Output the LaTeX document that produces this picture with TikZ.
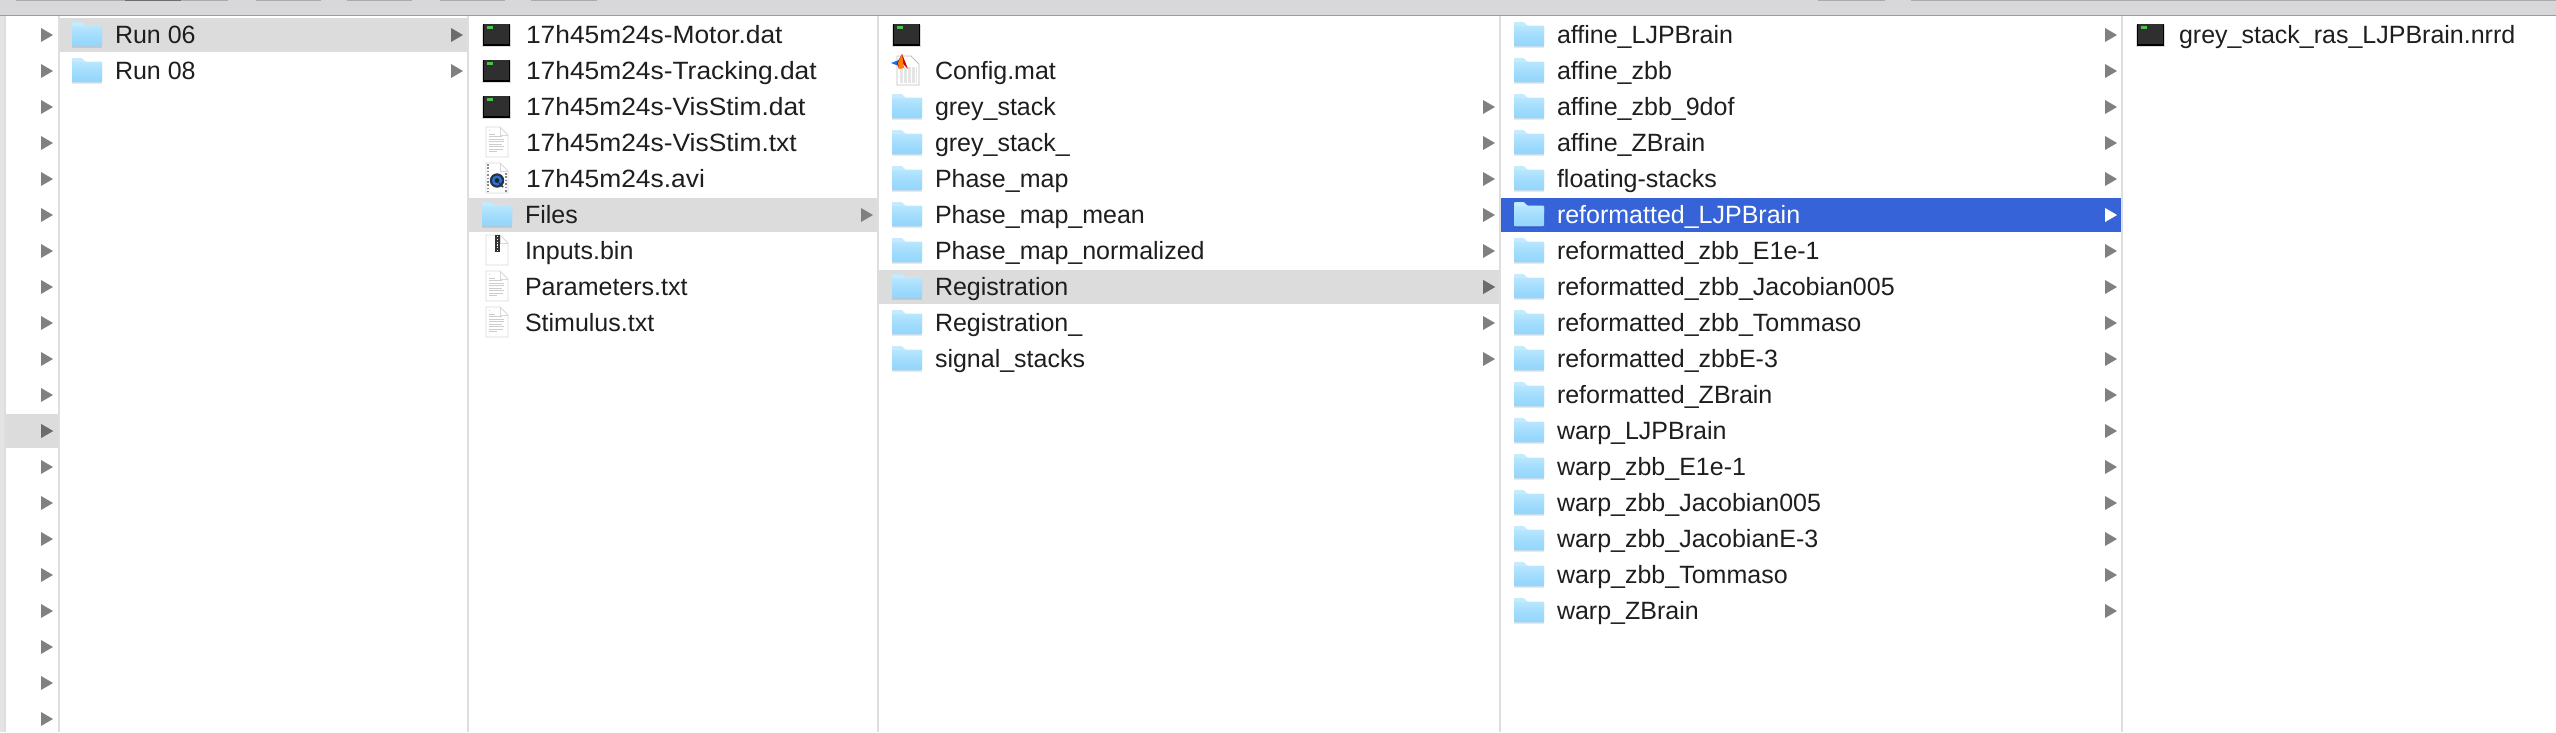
\documentclass[tikz,border=0pt]{standalone}
\usepackage{fontspec}
\setmainfont{Liberation Sans}
\definecolor{barbg}{HTML}{D8D8DA}
\definecolor{barline}{HTML}{9C9C9C}
\definecolor{btn}{HTML}{ABABAB}
\definecolor{btndark}{HTML}{6E6E6E}
\definecolor{divider}{HTML}{DEDEDE}
\definecolor{rowgrey}{HTML}{DCDCDC}
\definecolor{rowblue}{HTML}{3763D8}
\definecolor{chev}{HTML}{808080}
\definecolor{chevdark}{HTML}{6C6C6C}
\definecolor{ink}{HTML}{1E1E1E}
\definecolor{fold}{HTML}{A2DCFD}
\definecolor{foldtop}{HTML}{B6E6FE}
\definecolor{foldlow}{HTML}{93D6FD}
\definecolor{foldtab}{HTML}{C4EAFD}
\definecolor{foldedge}{HTML}{8FCDF4}
\definecolor{term}{HTML}{2F2F2F}
\definecolor{termgreen}{HTML}{4CC24C}
\definecolor{pageedge}{HTML}{D8D8D8}
\definecolor{sheetline}{HTML}{CDCDCD}
\definecolor{qdark}{HTML}{26344A}
\definecolor{qblue}{HTML}{2F72D6}
\tikzset{
  x=1pt,y=-1pt,
  label text/.style={anchor=base west,inner sep=0pt,outer sep=0pt,text=ink,
    font=\fontsize{25}{30}\selectfont},
  selected text/.style={label text,text=white},
}
% --- icons, given left edge #1 and row centre #2
\newcommand\iconfolder[2]{\begin{scope}[shift={(#1,#2)}]
  \fill[black,opacity=.09] (0,-8) rectangle (30,12.6);
  \fill[foldtab,rounded corners=1pt] (0,0) -- (0,-13) -- (10,-13) -- (13,-9.5) -- (30,-9.5) -- (30,0) -- cycle;
  \fill[foldedge,rounded corners=1pt] (0,-9) rectangle (30,11.4);
  \shade[top color=foldtop,bottom color=foldlow,middle color=fold] (0.4,-8.4) rectangle (29.6,10);
\end{scope}}
\newcommand\iconterm[2]{\begin{scope}[shift={(#1,#2)}]
  \fill[black,opacity=.14] (-1,-10) rectangle (28,12);
  \fill[black] (0,-11.5) rectangle (27,10.6);
  \fill[term] (.8,-10.7) rectangle (26.2,9.4);
  \fill[termgreen] (3.6,-8.6) rectangle (10,-6.4);
\end{scope}}
\newcommand\pagepath{(0,-16) -- (14,-16) -- (22,-8) -- (22,14) -- (0,14) -- cycle}
\newcommand\icondoc[2]{\begin{scope}[shift={(#1,#2)}]
  \fill[white,draw=pageedge,line width=.9pt] \pagepath;
  \draw[pageedge,line width=.7pt] (14,-16) -- (14,-8) -- (22,-8);
  \foreach \ly/\lx in {-13/4,-9/9,-6.5/16,-4/18,-1.5/18,1/16,3.5/18,6/17,8.5/11}
    \draw[sheetline,line width=.8pt] (3,\ly) -- (\lx,\ly);
\end{scope}}
\newcommand\iconzip[2]{\begin{scope}[shift={(#1,#2)}]
  \fill[white,draw=pageedge,line width=.9pt] \pagepath;
  \draw[pageedge,line width=.7pt] (14,-16) -- (14,-8) -- (22,-8);
  \fill[black!80] (9,-16) rectangle (14,1);
  \draw[white,line width=1.2pt,dash pattern=on 1.2pt off 1.6pt] (11.5,-15) -- (11.5,0);
\end{scope}}
\newcommand\iconavi[2]{\begin{scope}[shift={(#1,#2)}]
  \fill[white,draw=pageedge,line width=.9pt] \pagepath;
  \draw[pageedge,line width=.7pt] (14,-16) -- (14,-8) -- (22,-8);
  \draw[black!45,line width=1.5pt,dash pattern=on 1.6pt off 1.8pt] (2,-15) -- (2,13);
  \draw[black!45,line width=1.5pt,dash pattern=on 1.6pt off 1.8pt] (20,-6) -- (20,13);
  \fill[qdark] (11,1.5) circle (7.2);
  \fill[qblue] (11,1.5) circle (5);
  \fill[qdark!70!black] (11,1.5) circle (2.4);
  \draw[qdark,line width=1.6pt] (13,4) -- (17,8);
\end{scope}}
\newcommand\iconmat[2]{\begin{scope}[shift={(#1,#2)}]
  \fill[white,draw=black!25,line width=.9pt] (6,-15) -- (20,-15) -- (28,-7) -- (28,14) -- (6,14) -- cycle;
  \fill[black!10] (8,-4) rectangle (26,12);
  \draw[white,line width=.7pt,step=4] (8,-4) grid (26,12);
  \fill[blue!55!cyan] (0,-8) -- (8,-11) -- (8,-5) -- cycle;
  \fill[red!75!black] (6,-8) -- (11,-17) -- (17,-2) -- (12,-7) -- (8,-2) -- cycle;
  \fill[orange] (11,-17) -- (13,-3) -- (8,-2) -- (7,-8) -- cycle;
\end{scope}}
\newcommand\chevat[3][chev]{\fill[#1] (#2,#3-7) -- (#2+12,#3) -- (#2,#3+7) -- cycle;}
% name, icon, icon x, text x, row, text
\newcommand\entry[6]{\pgfmathtruncatemacro\cy{35+36*#5}
  #2{#3}{\cy}
  \node[label text] (#1) at (#4,\cy+8.5) {#6};}
\newcommand\widetxt[1]{\scalebox{1.055}[1]{#1}}
\begin{document}
\begin{tikzpicture}
\useasboundingbox (0,0) rectangle (2556,732);
\fill[white] (0,0) rectangle (2556,732);
% window toolbar
\fill[barbg] (0,0) rectangle (2556,15);
\fill[barline] (0,14.5) rectangle (2556,16);
\foreach \a/\b in {16/228,256/321,347/412,440/505,531/597,1818/1885,1911/2556}
  \fill[btn] (\a,0) rectangle (\b,1.3);
\fill[btndark] (125,0) rectangle (181,1.3);
% left strip
\fill[barbg!70!white] (0,16) rectangle (4,732);
\fill[divider] (4,16) rectangle (5.5,732);
% selection bars
\fill[rowgrey] (5.5,414) rectangle (57.5,448);
\fill[rowgrey] (59.5,18) rectangle (467,52);
\fill[rowgrey] (469,198) rectangle (877,232);
\fill[rowgrey] (879,270) rectangle (1499,304);
\fill[rowblue] (1501,198) rectangle (2121,232);
% column dividers
\foreach \d in {58.5,468,878,1500,2121.5}
  \fill[divider] (\d-1,16) rectangle (\d+1,732);
% chevrons, column 1
\foreach \k in {0,...,19}{\pgfmathtruncatemacro\cy{35+36*\k}\chevat{41}{\cy}}
\chevat[chevdark]{41}{431}
% chevrons, column 2
\chevat[chevdark]{451}{35}
\chevat{451}{71}
% chevrons, column 3
\chevat{861}{215}
% chevrons, column 4
\foreach \k in {2,...,9}{\pgfmathtruncatemacro\cy{35+36*\k}\chevat{1483}{\cy}}
\chevat[chevdark]{1483}{287}
% chevrons, column 5
\foreach \k in {0,...,16}{\pgfmathtruncatemacro\cy{35+36*\k}\chevat{2105}{\cy}}
\chevat[white]{2105}{215}
% column 2
\entry{run06}{\iconfolder}{72}{115}{0}{Run 06}
\entry{run08}{\iconfolder}{72}{115}{1}{Run 08}
% column 3
\entry{motor}{\iconterm}{483}{526}{0}{\widetxt{17h45m24s-Motor.dat}}
\entry{tracking}{\iconterm}{483}{526}{1}{\widetxt{17h45m24s-Tracking.dat}}
\entry{visdat}{\iconterm}{483}{526}{2}{\widetxt{17h45m24s-VisStim.dat}}
\entry{vistxt}{\icondoc}{486}{526}{3}{\widetxt{17h45m24s-VisStim.txt}}
\entry{avi}{\iconavi}{486}{526}{4}{\widetxt{17h45m24s.avi}}
\entry{files}{\iconfolder}{482}{525}{5}{Files}
\entry{inputs}{\iconzip}{486}{525}{6}{Inputs.bin}
\entry{params}{\icondoc}{486}{525}{7}{Parameters.txt}
\entry{stimulus}{\icondoc}{486}{525}{8}{Stimulus.txt}
% column 4
\iconterm{893}{35}
\entry{config}{\iconmat}{891}{935}{1}{Config.mat}
\entry{grey}{\iconfolder}{892}{935}{2}{grey\_stack}
\entry{greyb}{\iconfolder}{892}{935}{3}{grey\_stack\_}
\entry{phase}{\iconfolder}{892}{935}{4}{Phase\_map}
\entry{phasemean}{\iconfolder}{892}{935}{5}{Phase\_map\_mean}
\entry{phasenorm}{\iconfolder}{892}{935}{6}{Phase\_map\_normalized}
\entry{reg}{\iconfolder}{892}{935}{7}{Registration}
\entry{regb}{\iconfolder}{892}{935}{8}{Registration\_}
\entry{signal}{\iconfolder}{892}{935}{9}{signal\_stacks}
% column 5
\entry{a1}{\iconfolder}{1514}{1557}{0}{affine\_LJPBrain}
\entry{a2}{\iconfolder}{1514}{1557}{1}{affine\_zbb}
\entry{a3}{\iconfolder}{1514}{1557}{2}{affine\_zbb\_9dof}
\entry{a4}{\iconfolder}{1514}{1557}{3}{affine\_ZBrain}
\entry{a5}{\iconfolder}{1514}{1557}{4}{floating-stacks}
\iconfolder{1514}{215}
\node[selected text] (sel) at (1557,223.5) {reformatted\_LJPBrain};
\entry{r2}{\iconfolder}{1514}{1557}{6}{reformatted\_zbb\_E1e-1}
\entry{r3}{\iconfolder}{1514}{1557}{7}{reformatted\_zbb\_Jacobian005}
\entry{r4}{\iconfolder}{1514}{1557}{8}{reformatted\_zbb\_Tommaso}
\entry{r5}{\iconfolder}{1514}{1557}{9}{reformatted\_zbbE-3}
\entry{r6}{\iconfolder}{1514}{1557}{10}{reformatted\_ZBrain}
\entry{w1}{\iconfolder}{1514}{1557}{11}{warp\_LJPBrain}
\entry{w2}{\iconfolder}{1514}{1557}{12}{warp\_zbb\_E1e-1}
\entry{w3}{\iconfolder}{1514}{1557}{13}{warp\_zbb\_Jacobian005}
\entry{w4}{\iconfolder}{1514}{1557}{14}{warp\_zbb\_JacobianE-3}
\entry{w5}{\iconfolder}{1514}{1557}{15}{warp\_zbb\_Tommaso}
\entry{w6}{\iconfolder}{1514}{1557}{16}{warp\_ZBrain}
% column 6
\entry{nrrd}{\iconterm}{2137}{2179}{0}{grey\_stack\_ras\_LJPBrain.nrrd}
\end{tikzpicture}
\end{document}
